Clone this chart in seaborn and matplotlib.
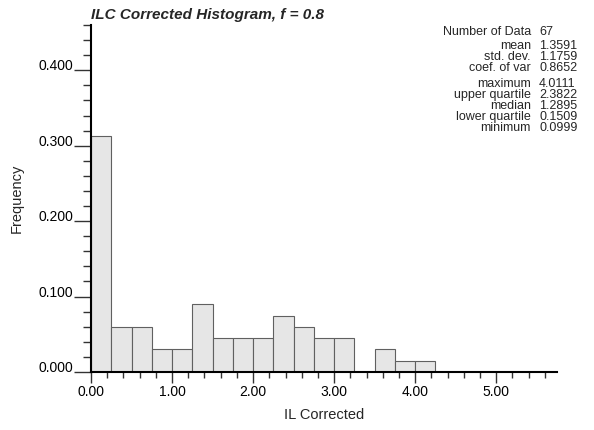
import matplotlib
matplotlib.use("Agg")
import matplotlib.pyplot as plt
from matplotlib.ticker import MultipleLocator, FormatStrFormatter
import seaborn as sns
import numpy as np
import pandas as pd

bin_edges = [0.0, 0.25, 0.5, 0.75, 1.0, 1.25, 1.5, 1.75, 2.0, 2.25, 2.5,
             2.75, 3.0, 3.25, 3.5, 3.75, 4.0, 4.25]
counts = [21, 4, 4, 2, 2, 6, 3, 3, 3, 5, 4, 3, 3, 0, 2, 1, 1]
n_data = 67
frequency = [c / n_data for c in counts]

stat_labels = ["Number of Data", "mean", "std. dev.", "coef. of var",
               "maximum", "upper quartile", "median", "lower quartile", "minimum"]
stat_values = ["67", "1.3591", "1.1759", "0.8652",
               "4.0111", "2.3822", "1.2895", "0.1509", "0.0999"]

title = "ILC Corrected Histogram, f = 0.8"
xlabel = "IL Corrected"
ylabel = "Frequency"

sns.set_theme(style="white")
plt.rcParams['font.family'] = ['Liberation Sans', 'DejaVu Sans']

centers = [(bin_edges[i] + bin_edges[i + 1]) / 2 for i in range(len(counts))]
df = pd.DataFrame({"x": centers, "w": frequency})

fig = plt.figure(figsize=(5.94, 4.30), dpi=100)
ax = fig.add_axes([91 / 594, (430 - 372) / 430, (557 - 91) / 594, (372 - 25) / 430])

sns.histplot(data=df, x="x", weights="w", bins=bin_edges, stat="count",
             color="#e6e6e6", edgecolor="#606060", linewidth=0.8, alpha=1.0, ax=ax)

ax.set_xlim(0, 5.75)
ax.set_ylim(0, 0.46)
ax.xaxis.set_major_locator(MultipleLocator(1.0))
ax.xaxis.set_minor_locator(MultipleLocator(0.2))
ax.yaxis.set_major_locator(MultipleLocator(0.1))
ax.yaxis.set_minor_locator(MultipleLocator(0.02))
ax.xaxis.set_major_formatter(FormatStrFormatter("%.2f"))
ax.yaxis.set_major_formatter(FormatStrFormatter("%.3f"))

for s in ["top", "right"]:
    ax.spines[s].set_visible(False)
for s in ["left", "bottom"]:
    ax.spines[s].set_linewidth(1.5)
    ax.spines[s].set_color("black")

ax.tick_params(axis="both", which="both", direction="out", color="#333333",
               bottom=True, left=True, labelsize=10, colors="black")
ax.tick_params(axis="x", which="major", length=8, width=1.0, pad=1)
ax.tick_params(axis="x", which="minor", length=4, width=1.0)
ax.tick_params(axis="y", which="major", length=12, width=1.0, pad=1)
ax.tick_params(axis="y", which="minor", length=6, width=1.0)
for lbl in ax.get_yticklabels():
    lbl.set_verticalalignment("baseline")

ax.set_xlabel(xlabel, fontsize=10.5, labelpad=7)
ax.set_ylabel(ylabel, fontsize=10.5, labelpad=10)
ax.set_title(title, fontsize=11, fontweight="bold", fontstyle="italic",
             loc="left", pad=4)

ys = [32, 46, 57, 68, 84, 95, 106, 117, 128]
for lab, val, y in zip(stat_labels, stat_values, ys):
    fig.text(531 / 594, 1 - y / 430, lab, ha="right", va="center", fontsize=9)
    fig.text(539 / 594, 1 - y / 430, val, ha="left", va="center", fontsize=9)

fig.savefig("out.png", dpi=100)
